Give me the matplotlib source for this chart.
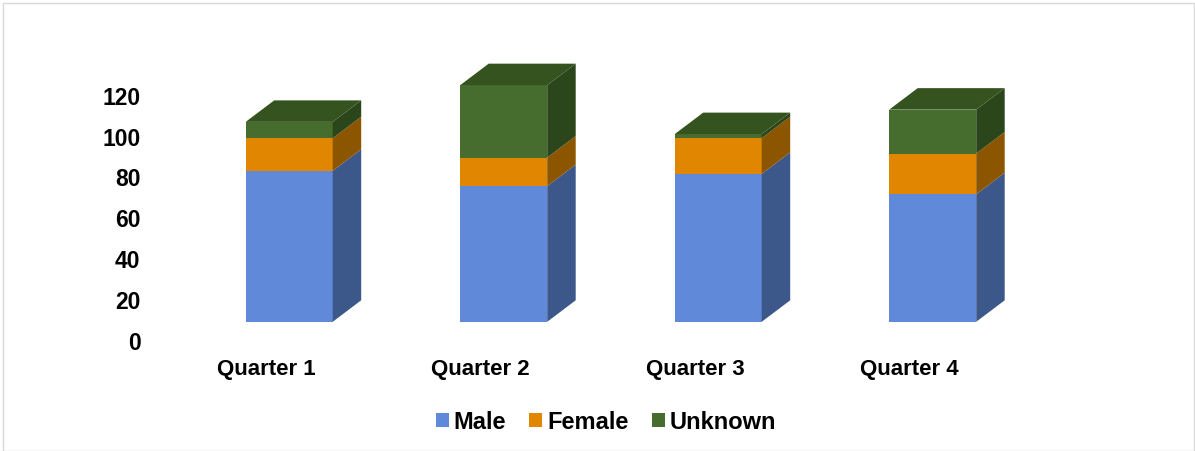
import matplotlib
matplotlib.use("Agg")
import matplotlib.pyplot as plt
from matplotlib.patches import Polygon, Patch, Rectangle
import numpy as np

plt.rcParams['font.family'] = ['Liberation Sans', 'DejaVu Sans']
plt.rcParams['font.weight'] = 'bold'

categories = ["Quarter 1", "Quarter 2", "Quarter 3", "Quarter 4"]
series_names = ["Male", "Female", "Unknown"]
male = [74, 66.5, 72.5, 62.5]
female = [16, 14, 17.5, 20]
unknown = [8, 35.5, 2, 21.5]
y_ticks = [0, 20, 40, 60, 80, 100, 120]

front_colors = ["#6189D9", "#E08600", "#466D2D"]
side_colors = ["#3C5789", "#8C5500", "#2C461C"]
top_colors = ["#4F76C6", "#B86E00", "#35531F"]

W, H = 1195, 452
fig = plt.figure(figsize=(W / 100, H / 100), dpi=100)

# pixel geometry
base_px = 322.8          # baseline of bar front faces (from top)
px_per_unit = 2.04
ymax = 130
c0, step = 289.2, 214.5  # bar centre of first bar and spacing
left_px = c0 - step / 2
ax_w = 4 * step
ax_h = ymax * px_per_unit
depth_px = (28.5, 21.5)
front_off = (-23.0, 17.7)  # axis plane in front of bars

# front axis plane: carries the tick labels
axf = fig.add_axes([(left_px + front_off[0]) / W, (H - base_px - front_off[1]) / H, ax_w / W, ax_h / H])
axf.set_xlim(-0.5, 3.5)
axf.set_ylim(0, ymax)
axf.set_yticks(y_ticks)
axf.set_yticklabels([str(v) for v in y_ticks])
axf.set_xticks(range(len(categories)))
axf.set_xticklabels(categories)
axf.tick_params(axis='y', length=0, pad=13.2, labelsize=16.5)
axf.tick_params(axis='x', length=0, pad=13, labelsize=16)
for s in axf.spines.values():
    s.set_visible(False)
axf.patch.set_alpha(0)

# bar axes
ax = fig.add_axes([left_px / W, (H - base_px) / H, ax_w / W, ax_h / H])
ax.set_xlim(-0.5, 3.5)
ax.set_ylim(0, ymax)
ax.axis('off')
ax.patch.set_alpha(0)

bar_w = 87 / step
ddx = depth_px[0] / step
ddy = depth_px[1] / px_per_unit

x = np.arange(len(categories))
data = [male, female, unknown]
bottoms = np.zeros(len(categories))
for si, vals in enumerate(data):
    vals = np.array(vals, dtype=float)
    ax.bar(x, vals, bar_w, bottom=bottoms, color=front_colors[si], linewidth=0, zorder=2)
    for i in range(len(categories)):
        xr = x[i] + bar_w / 2
        b = bottoms[i]
        t = b + vals[i]
        ax.add_patch(Polygon([(xr, b), (xr + ddx, b + ddy), (xr + ddx, t + ddy), (xr, t)],
                             closed=True, facecolor=side_colors[si], edgecolor='none', zorder=2))
    bottoms = bottoms + vals

for i in range(len(categories)):
    xl = x[i] - bar_w / 2
    xr = x[i] + bar_w / 2
    T = bottoms[i]
    ax.add_patch(Polygon([(xl, T), (xl + ddx, T + ddy), (xr + ddx, T + ddy), (xr, T)],
                         closed=True, facecolor=top_colors[2], edgecolor='none', zorder=2))

handles = [Patch(facecolor=front_colors[k], edgecolor='none') for k in range(3)]
fig.legend(handles, series_names, loc='center', bbox_to_anchor=(606 / W, (H - 423.0) / H),
           ncol=3, frameon=False, fontsize=17, handlelength=0.55, handleheight=0.55,
           handletextpad=0.2, columnspacing=1.0)

fig.patches.append(Rectangle((3 / W, 0.5 / H), (W - 4.5) / W, (H - 4.5) / H, transform=fig.transFigure,
                             fill=False, edgecolor='#D9D9D9', linewidth=1))

fig.savefig("out.png", dpi=100)
